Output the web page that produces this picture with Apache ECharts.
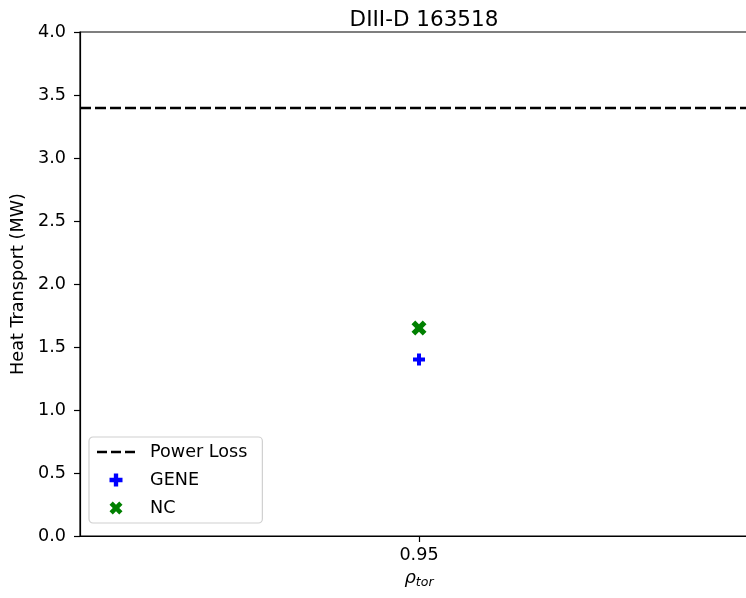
<!DOCTYPE html>
<html><head><meta charset="utf-8">
<script src="https://cdn.jsdelivr.net/npm/echarts@6/dist/echarts.min.js"></script>
<style>html,body{margin:0;padding:0;background:#fff;overflow:hidden;width:746px;height:598px}#wrap{width:746px;height:598px;overflow:hidden}#c{width:770px;height:598px}</style>
</head><body><div id="wrap"><div id="c"></div></div>
<script>
var title = 'DIII-D 163518';
var rhoTor = [0.95];
var geneValues = [1.4];
var ncValues = [1.65];
var powerLoss = 3.4;
var yTicks = [0.0, 0.5, 1.0, 1.5, 2.0, 2.5, 3.0, 3.5, 4.0];

var plusPath = 'path://M-1,-3L1,-3L1,-1L3,-1L3,1L1,1L1,3L-1,3L-1,1L-3,1L-3,-1L-1,-1Z';
var xPath = 'path://M1.414,-2.828L2.828,-1.414L1.414,0L2.828,1.414L1.414,2.828L0,1.414L-1.414,2.828L-2.828,1.414L-1.414,0L-2.828,-1.414L-1.414,-2.828L0,-1.414Z';
var dashPath = 'path://M0,0H10V2.4H0ZM14,0H24V2.4H14ZM28,0H38V2.4H28Z';
var font = 'DejaVu Sans';
var xMin = 0.9495, xMax = 0.9505;

var chart = echarts.init(document.getElementById('c'), null, {renderer: 'canvas'});
chart.setOption({
  animation: false,
  textStyle: {fontFamily: font},
  title: {text: title, left: 419, top: 4, textAlign: 'center',
    textStyle: {fontFamily: font, fontSize: 21.5, fontWeight: 'normal', color: '#000'}},
  grid: {left: 80, top: 32, right: 12, height: 504, containLabel: false,
    show: true, borderColor: '#000', borderWidth: 1.2, backgroundColor: 'transparent'},
  legend: {
    left: 89, top: 437, orient: 'vertical',
    backgroundColor: '#fff', borderColor: '#d0d0d0', borderWidth: 1.2, borderRadius: 4,
    padding: [6, 15, 6, 8], itemGap: 10, itemWidth: 38, itemHeight: 13,
    textStyle: {fontFamily: font, fontSize: 17.6, lineHeight: 18, color: '#000', padding: [0, 0, 0, 10]},
    data: [
      {name: 'Power Loss', icon: dashPath, itemStyle: {color: '#000'}},
      {name: 'GENE', icon: plusPath},
      {name: 'NC', icon: xPath}
    ]
  },
  xAxis: {
    type: 'value', min: xMin, max: xMax, position: 'bottom',
    name: '{i|ρ}{s|tor}', nameLocation: 'middle', nameGap: 27,
    nameTextStyle: {rich: {
      i: {fontFamily: font, fontStyle: 'italic', fontSize: 18, color: '#000'},
      s: {fontFamily: font, fontStyle: 'italic', fontSize: 12.5, color: '#000', verticalAlign: 'bottom', padding: [9, 0, 0, 0]}
    }},
    axisLine: {onZero: false, lineStyle: {color: '#000', width: 1.2}},
    axisTick: {show: true, length: 6, lineStyle: {color: '#000', width: 1.2}, customValues: rhoTor},
    axisLabel: {customValues: rhoTor, formatter: function (v) { return v.toFixed(2); },
      fontFamily: font, fontSize: 17.6, color: '#000', margin: 10},
    splitLine: {show: false}
  },
  yAxis: {
    type: 'value', min: 0, max: 4, interval: 0.5,
    name: 'Heat Transport (MW)', nameLocation: 'middle', nameGap: 52,
    nameTextStyle: {fontFamily: font, fontSize: 17.6, color: '#000'},
    axisLine: {show: true, onZero: false, lineStyle: {color: '#000', width: 1.2}},
    axisTick: {show: true, length: 6, lineStyle: {color: '#000', width: 1.2}},
    axisLabel: {formatter: function (v) { return v.toFixed(1); }, fontFamily: font, fontSize: 17.6, color: '#000', margin: 14},
    splitLine: {show: false}
  },
  series: [
    {name: 'Power Loss', type: 'line', data: [], itemStyle: {color: '#000'},
      lineStyle: {color: '#000', width: 2.4, type: [11, 4]},
      markLine: {silent: true, symbol: 'none', label: {show: false},
        lineStyle: {color: '#000', width: 2.4, type: [11, 4]},
        data: [{yAxis: powerLoss}]}},
    {name: 'GENE', type: 'scatter', symbol: plusPath, symbolSize: 12,
      itemStyle: {color: '#0000ff', opacity: 1},
      data: rhoTor.map(function (x, i) { return [x, geneValues[i]]; })},
    {name: 'NC', type: 'scatter', symbol: xPath, symbolSize: 15,
      itemStyle: {color: '#008000', opacity: 1},
      data: rhoTor.map(function (x, i) { return [x, ncValues[i]]; })}
  ]
});
</script></body></html>
